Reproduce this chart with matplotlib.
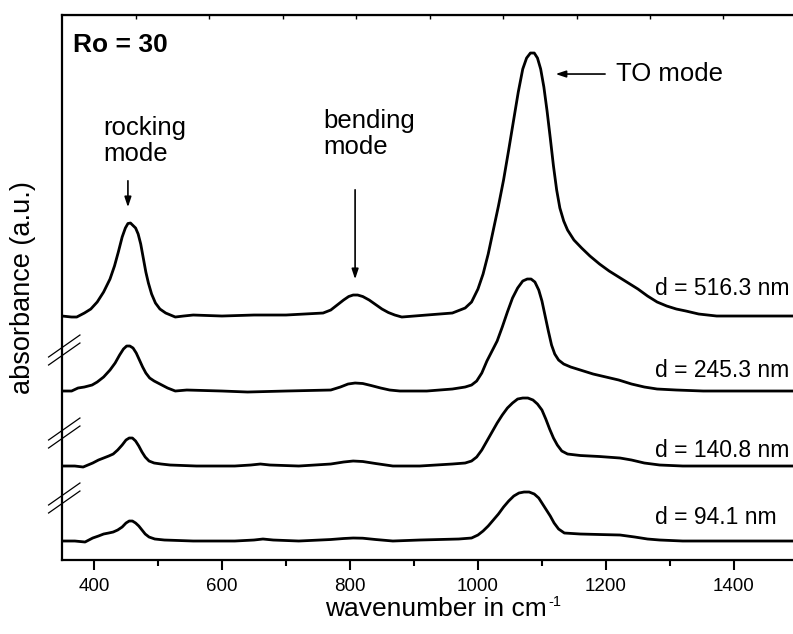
import numpy as np
import matplotlib.pyplot as plt
from matplotlib.transforms import IdentityTransform

plt.rcParams['font.family'] = ['Liberation Sans', 'DejaVu Sans']

# wavenumber (cm-1) and absorbance above each curve's own baseline (a.u.)
wn_516 = [350, 365, 373, 385, 395, 405, 415, 425, 432, 438, 444, 449, 453, 457, 461, 465, 469, 473,
          477, 481, 485, 490, 496, 503, 512, 527, 540, 555, 600, 650, 700, 758, 770, 780, 790, 798,
          805, 812, 820, 830, 840, 850, 860, 870, 881, 920, 960, 980, 990, 1000, 1008, 1016, 1024,
          1032, 1040, 1048, 1056, 1063, 1070, 1076, 1082, 1088, 1093, 1098, 1103, 1108, 1113, 1118,
          1123, 1128, 1134, 1140, 1150, 1162, 1175, 1190, 1205, 1220, 1235, 1250, 1265, 1280, 1295,
          1310, 1325, 1345, 1373, 1420, 1500]
abs_516 = [0.00, -0.01, -0.01, 0.03, 0.07, 0.14, 0.24, 0.37, 0.50, 0.64, 0.79, 0.88, 0.925, 0.93,
           0.905, 0.88, 0.82, 0.72, 0.58, 0.44, 0.33, 0.22, 0.13, 0.07, 0.03, -0.01, 0.00, 0.01, 0.00,
           0.01, 0.01, 0.03, 0.06, 0.11, 0.16, 0.195, 0.21, 0.21, 0.195, 0.16, 0.115, 0.07, 0.035,
           0.01, -0.01, 0.01, 0.03, 0.08, 0.14, 0.27, 0.42, 0.62, 0.86, 1.10, 1.36, 1.66, 1.97, 2.24,
           2.47, 2.58, 2.63, 2.63, 2.58, 2.47, 2.29, 2.05, 1.78, 1.50, 1.26, 1.08, 0.95, 0.86, 0.76,
           0.68, 0.60, 0.52, 0.45, 0.39, 0.33, 0.27, 0.20, 0.14, 0.10, 0.07, 0.05, 0.02, 0.00, 0.00,
           0.00]

wn_245 = [350, 365, 375, 385, 397, 405, 415, 425, 433, 440, 446, 451, 456, 461, 466, 471, 476, 481,
          487, 494, 503, 515, 527, 545, 600, 640, 700, 770, 785, 797, 808, 820, 833, 848, 862, 878,
          920, 960, 980, 990, 998, 1006, 1014, 1022, 1030, 1038, 1046, 1054, 1062, 1070, 1077, 1083,
          1089, 1095, 1100, 1105, 1110, 1115, 1120, 1126, 1134, 1145, 1160, 1180, 1200, 1220, 1240,
          1260, 1280, 1310, 1352, 1500]
abs_245 = [0.00, 0.00, 0.03, 0.04, 0.06, 0.09, 0.14, 0.21, 0.28, 0.36, 0.42, 0.45, 0.45, 0.43, 0.38,
           0.31, 0.24, 0.18, 0.13, 0.10, 0.07, 0.03, 0.00, 0.01, 0.00, -0.01, 0.00, 0.01, 0.04, 0.07,
           0.08, 0.075, 0.055, 0.03, 0.01, 0.00, 0.00, 0.02, 0.04, 0.06, 0.10, 0.18, 0.30, 0.40, 0.50,
           0.64, 0.79, 0.93, 1.03, 1.10, 1.12, 1.12, 1.09, 1.01, 0.90, 0.75, 0.60, 0.46, 0.37, 0.31,
           0.27, 0.24, 0.21, 0.17, 0.14, 0.11, 0.07, 0.04, 0.02, 0.01, 0.00, 0.00]

wn_140 = [350, 370, 383, 398, 407, 415, 423, 430, 437, 444, 450, 455, 460, 465, 470, 475, 480, 486,
          494, 505, 519, 560, 620, 645, 660, 675, 720, 770, 790, 805, 820, 840, 867, 909, 960, 980,
          990, 998, 1006, 1014, 1022, 1030, 1038, 1046, 1054, 1062, 1070, 1078, 1086, 1093, 1100,
          1106, 1112, 1118, 1124, 1131, 1140, 1160, 1190, 1222, 1240, 1260, 1284, 1320, 1500]
abs_140 = [0.00, 0.00, -0.01, 0.03, 0.06, 0.08, 0.10, 0.12, 0.16, 0.21, 0.26, 0.28, 0.28, 0.25, 0.20,
           0.14, 0.09, 0.05, 0.03, 0.02, 0.01, 0.00, 0.00, 0.01, 0.02, 0.01, 0.00, 0.02, 0.04, 0.05,
           0.045, 0.025, 0.00, 0.00, 0.02, 0.03, 0.05, 0.09, 0.16, 0.25, 0.34, 0.43, 0.51, 0.58, 0.63,
           0.67, 0.68, 0.68, 0.66, 0.62, 0.56, 0.47, 0.37, 0.28, 0.21, 0.15, 0.12, 0.105, 0.095, 0.08,
           0.06, 0.03, 0.01, 0.00, 0.00]

wn_94 = [350, 370, 386, 398, 407, 415, 423, 430, 437, 444, 450, 455, 460, 465, 470, 475, 480, 486,
         495, 510, 555, 620, 650, 664, 680, 720, 770, 790, 805, 820, 840, 867, 909, 970, 990, 1000,
         1008, 1016, 1024, 1032, 1040, 1048, 1056, 1064, 1072, 1080, 1088, 1095, 1101, 1107, 1113,
         1119, 1126, 1135, 1160, 1190, 1222, 1245, 1265, 1284, 1320, 1500]
abs_94 = [0.00, 0.00, -0.01, 0.03, 0.05, 0.07, 0.08, 0.09, 0.11, 0.14, 0.18, 0.20, 0.20, 0.18, 0.15,
          0.11, 0.07, 0.04, 0.02, 0.01, 0.00, 0.00, 0.01, 0.02, 0.01, 0.00, 0.015, 0.025, 0.03, 0.028,
          0.015, 0.00, 0.01, 0.02, 0.03, 0.06, 0.10, 0.15, 0.21, 0.27, 0.34, 0.40, 0.45, 0.48, 0.49,
          0.49, 0.47, 0.43, 0.37, 0.31, 0.25, 0.18, 0.12, 0.08, 0.07, 0.065, 0.06, 0.04, 0.02, 0.01,
          0.00, 0.00]

series = [(wn_516, abs_516), (wn_245, abs_245), (wn_140, abs_140), (wn_94, abs_94)]
labels = ['d = 516.3 nm', 'd = 245.3 nm', 'd = 140.8 nm', 'd = 94.1 nm']
offsets = [2.44, 1.69, 0.94, 0.19]
label_y = [2.72, 1.90, 1.10, 0.43]
breaks_y = [2.10, 1.27, 0.62]

fig = plt.figure(figsize=(7.93, 6.34), dpi=100)
ax = fig.add_axes([0.0782, 0.1167, 0.928, 0.8596])

for (wn, a), off in zip(series, offsets):
    ax.plot(wn, np.array(a) + off, color='black', lw=2.0,
            solid_joinstyle='round', solid_capstyle='round')

for lab, ly in zip(labels, label_y):
    ax.text(1276, ly, lab, fontsize=16.5, va='center', ha='left')

ax.set_xlim(350, 1500)
ax.set_ylim(0, 5.45)
ax.set_xticks([400, 600, 800, 1000, 1200, 1400])
ax.set_xticks(np.arange(500, 1501, 200), minor=True)
ax.set_yticks([])
ax.tick_params(axis='x', which='major', direction='out', length=7, width=1.5, labelsize=13.5, pad=6)
ax.tick_params(axis='x', which='minor', direction='out', length=4, width=1.5)
for s in ax.spines.values():
    s.set_linewidth(1.6)
ax.spines['right'].set_visible(False)

top = ax.secondary_xaxis('top')
top.set_xticks([465.6, 579.7, 695.3, 809.4, 925, 1039, 1154.7, 1268.8, 1382.8, 1497])
top.tick_params(direction='in', length=3, width=1, labeltop=False)

xl = ax.set_xlabel('wavenumber in cm', fontsize=19)
ax.xaxis.set_label_coords(0.508, -0.068)
ax.set_ylabel('absorbance (a.u.)', fontsize=19.5)
ax.yaxis.set_label_coords(-0.036, 0.5)

ax.text(367, 5.15, 'Ro = 30', fontsize=19, fontweight='bold', va='center', ha='left')
ax.text(414, 4.19, 'rocking\nmode', fontsize=18.5, va='center', ha='left', linespacing=1.15)
ax.text(759, 4.26, 'bending\nmode', fontsize=18.5, va='center', ha='left', linespacing=1.15)
ax.text(1216, 4.86, 'TO mode', fontsize=18.5, va='center', ha='left')

arrow = dict(arrowstyle='-|>,head_length=0.6,head_width=0.2', color='black', lw=1.2)
ax.annotate('', xy=(453, 3.50), xytext=(453, 3.82), arrowprops=arrow)
ax.annotate('', xy=(808, 2.78), xytext=(808, 3.73), arrowprops=arrow)
ax.annotate('', xy=(1117, 4.86), xytext=(1203, 4.86), arrowprops=arrow)

# axis break marks on the left spine
for by in breaks_y:
    for dy in (0.04, -0.04):
        ax.plot([329, 378], [by - 0.11 + dy, by + 0.11 + dy], color='black', lw=0.9,
                clip_on=False)

# small superscript after the x label
fig.canvas.draw()
bb = xl.get_window_extent()
fig.text(bb.x1 + 2, bb.y1 + 2, '-1', fontsize=10.5, ha='left', va='top',
         transform=IdentityTransform())

fig.savefig('out.png', dpi=100)
